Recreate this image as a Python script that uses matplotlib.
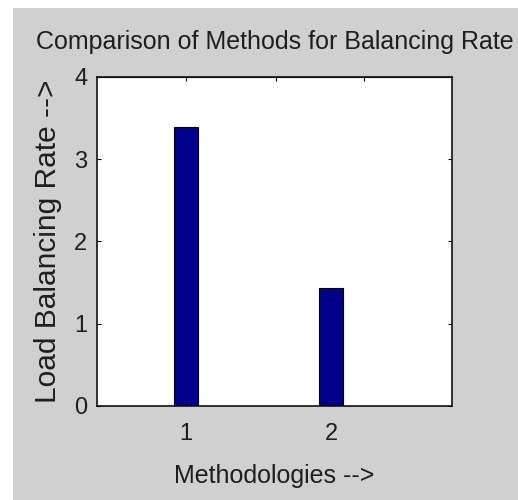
import matplotlib
matplotlib.use("Agg")
import matplotlib.pyplot as plt
from matplotlib.patches import Rectangle

methods = [1, 2]
rates = [3.39, 1.43]
xtick_labels = ["1", "2"]
yticks = [0, 1, 2, 3, 4]

font = ["Liberation Sans", "DejaVu Sans"]
txt = "#1e1e1e"

fig = plt.figure(figsize=(5.18, 5.00), dpi=100, facecolor="white")
fig.patches.append(Rectangle((13/518, 0), 1 - 13/518, 1 - 8/500,
                             transform=fig.transFigure, facecolor="#d0d0d0",
                             edgecolor="none", zorder=-10))

ax = fig.add_axes([97/518, 94/500, (452-97)/518, (406-77)/500])
ax.set_facecolor("white")
ax.bar(methods, rates, width=0.165, color="#00008b", edgecolor="black", linewidth=0.8)
ax.set_xlim(0.386, 2.834)
ax.set_ylim(0, 4)
ax.set_xticks(methods)
ax.set_xticklabels(xtick_labels, fontfamily=font, fontsize=17, color=txt)
ax.set_yticks(yticks)
ax.set_yticklabels([str(v) for v in yticks], fontfamily=font, fontsize=17, color=txt)
ax.tick_params(axis="both", direction="in", length=3, width=0.8, right=True, top=False)
ax.tick_params(axis="x", pad=12)
ax.tick_params(axis="y", pad=7)
for s in ax.spines.values():
    s.set_linewidth(1.2)
    s.set_color("#111111")

top = ax.secondary_xaxis("top")
top.set_xticks([1, 1.62, 2.23])
top.set_xticklabels([])
top.tick_params(direction="in", length=3, width=0.8)

ax.set_title("Comparison of Methods for Balancing Rate", fontfamily=font,
             fontsize=18, color=txt, pad=20)
ax.set_xlabel("Methodologies -->", fontfamily=font, fontsize=18, color=txt, labelpad=14)
ax.set_ylabel("Load Balancing Rate -->", fontfamily=font, fontsize=21.5, color=txt, labelpad=9)

fig.savefig("out.png", dpi=100, facecolor=fig.get_facecolor())
